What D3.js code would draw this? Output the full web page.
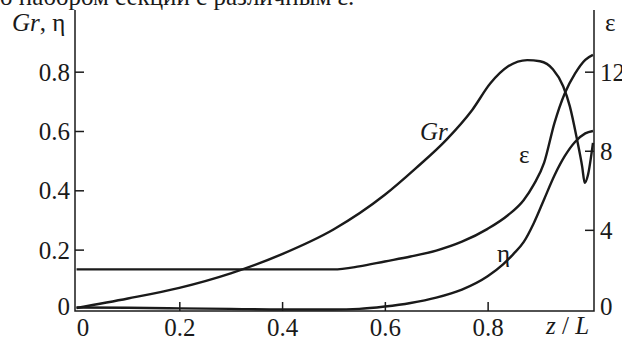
<!DOCTYPE html>
<html>
<head>
<meta charset="utf-8">
<script src="https://cdn.jsdelivr.net/npm/d3@7"></script>
<style>
  body { margin: 0; background: #fff; }
  svg { display: block; }
  .curve { fill: none; stroke: #1a1a1a; stroke-width: 2.4px; }
  .frame, .tick line { stroke: #1a1a1a; stroke-width: 1.5px; }
</style>
</head>
<body>
<div id="chart"></div>
<script>
// ticks
const xTicks = [0, 0.2, 0.4, 0.6, 0.8];
const leftTicks = [0, 0.2, 0.4, 0.6, 0.8];
const rightTicks = [0, 4, 8, 12];

// Gr(z)
const grZ = [0, 0.1, 0.2, 0.3, 0.4, 0.5, 0.6, 0.66, 0.72, 0.77, 0.805, 0.84, 0.877, 0.902, 0.927, 0.947, 0.96, 0.974, 0.984, 0.989, 0.995, 1.005];
const grValues = [0.003, 0.035, 0.071, 0.12, 0.185, 0.268, 0.385, 0.474, 0.571, 0.671, 0.76, 0.818, 0.839, 0.835, 0.808, 0.751, 0.683, 0.571, 0.48, 0.425, 0.45, 0.56];

// eta(z)
const etaZ = [0, 0.1, 0.2, 0.3, 0.4, 0.5, 0.55, 0.6, 0.65, 0.7, 0.75, 0.8, 0.83, 0.85, 0.87, 0.89, 0.91, 0.93, 0.95, 0.97, 0.99, 1.005];
const etaValues = [0.005, 0.004, 0.002, 0.0, -0.002, -0.002, 0.0, 0.008, 0.02, 0.038, 0.065, 0.11, 0.15, 0.185, 0.225, 0.29, 0.37, 0.45, 0.515, 0.563, 0.592, 0.6];

// epsilon(z), right axis
const epsZ = [0, 0.5, 0.55, 0.6, 0.65, 0.7, 0.75, 0.8, 0.84, 0.87, 0.89, 0.91, 0.93, 0.95, 0.97, 0.99, 1.005];
const epsValues = [2.0, 2.0, 2.15, 2.4, 2.65, 2.95, 3.4, 4.05, 4.75, 5.5, 6.3, 7.4, 9.4, 10.9, 11.9, 12.6, 12.85];

const width = 622, height = 340;
const margin = { left: 75, right: 594, top: 10, bottom: 311 };
const fontSize = 25;

const svg = d3.select('#chart').append('svg')
  .attr('width', width)
  .attr('height', height);

svg.append('rect').attr('width', width).attr('height', height).attr('fill', '#fff');

const x = d3.scaleLinear().domain([-0.003, 1.007]).range([margin.left, margin.right]);
const y = d3.scaleLinear().domain([-0.007, 1.008]).range([margin.bottom, margin.top]);
const yEps = d3.scaleLinear().domain([-0.105, 15.12]).range([margin.bottom, margin.top]);

// cut-off caption line at top
svg.append('text')
  .attr('x', 0).attr('y', 5)
  .attr('font-size', fontSize)
  .text('о набором секций с различным ε.');

// axes
const fmt = d => d === 0 ? '0' : d3.format('.1f')(d);

svg.append('g')
  .attr('transform', `translate(0,${margin.bottom})`)
  .call(d3.axisBottom(x).tickValues(xTicks).tickFormat(fmt).tickSizeInner(-9).tickSizeOuter(0).tickPadding(7))
  .call(g => g.select('.domain').remove())
  .call(g => g.selectAll('.tick text').attr('dy', '0.72em')
    .attr('dx', d => d === 0 ? 6 : 0))
  .call(g => g.selectAll('.tick').filter(d => d === 0).select('line').remove());

svg.append('g')
  .attr('transform', `translate(${margin.left},0)`)
  .call(d3.axisLeft(y).tickValues(leftTicks).tickFormat(fmt).tickSizeInner(-9).tickSizeOuter(0).tickPadding(5))
  .call(g => g.select('.domain').remove())
  .call(g => g.selectAll('.tick text').attr('dy', d => d === 0 ? '0.22em' : '0.34em'))
  .call(g => g.selectAll('.tick').filter(d => d === 0).select('line').remove());

svg.append('g')
  .attr('transform', `translate(${margin.right},0)`)
  .call(d3.axisRight(yEps).tickValues(rightTicks).tickSizeInner(-9).tickSizeOuter(0).tickPadding(6))
  .call(g => g.select('.domain').remove())
  .call(g => g.selectAll('.tick text').attr('dy', d => d === 0 ? '0.22em' : '0.34em'))
  .call(g => g.selectAll('.tick').filter(d => d === 0).select('line').remove());

// frame: left, bottom, right
svg.append('path').attr('class', 'frame').attr('fill', 'none')
  .attr('d', `M${margin.left},${margin.top}V${margin.bottom}H${margin.right}V${margin.top}`);

// curves
const line = (ys) => d3.line()
  .curve(d3.curveMonotoneX)
  .x(d => x(d[0]))
  .y(d => ys(d[1]));

svg.append('path').attr('class', 'curve')
  .attr('d', line(y)(d3.zip(grZ, grValues)));
svg.append('path').attr('class', 'curve')
  .attr('d', line(y)(d3.zip(etaZ, etaValues)));
svg.append('path').attr('class', 'curve')
  .attr('d', line(yEps)(d3.zip(epsZ, epsValues)));

// axis titles
const leftTitle = svg.append('text').attr('x', 12).attr('y', 31);
leftTitle.append('tspan').attr('font-style', 'italic').text('Gr');
leftTitle.append('tspan').text(', η');

svg.append('text').attr('x', 605).attr('y', 31).text('ε');

const xTitle = svg.append('text').attr('x', 546).attr('y', 334);
xTitle.append('tspan').attr('font-style', 'italic').text('z');
xTitle.append('tspan').text(' / ');
xTitle.append('tspan').attr('font-style', 'italic').text('L');

// curve labels
svg.append('text').attr('x', 420).attr('y', 140).attr('font-style', 'italic').text('Gr');
svg.append('text').attr('x', 519).attr('y', 163).text('ε');
svg.append('text').attr('x', 497).attr('y', 262).text('η');

svg.selectAll('text')
  .style('font-family', '"Liberation Serif"')
  .style('font-size', fontSize + 'px')
  .style('fill', '#1a1a1a');
</script>
</body>
</html>
